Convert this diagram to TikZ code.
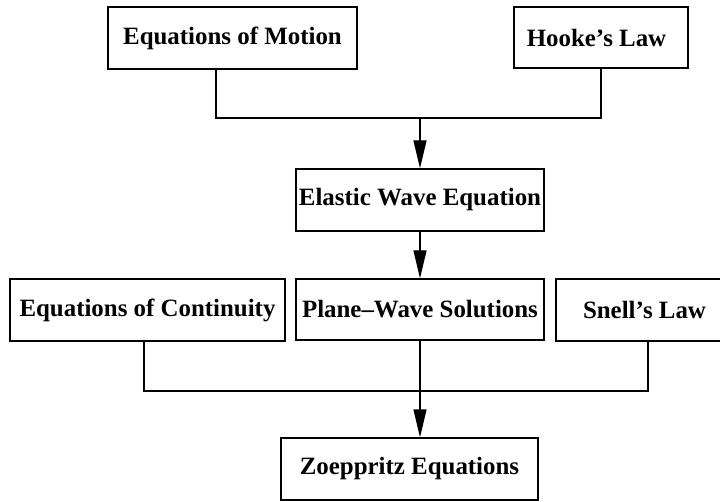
\documentclass[tikz,border=0pt]{standalone}
\usepackage{fontspec}
\setmainfont{Liberation Serif}
\usetikzlibrary{arrows.meta}
\begin{document}
\begin{tikzpicture}[x=1pt,y=-1pt,
  box/.style={draw,line width=1.3pt,inner sep=0pt,
    font=\fontsize{24.9}{28}\selectfont\bfseries},
  link/.style={line width=1.3pt},
  arr/.style={line width=1.3pt,-{Triangle[length=28pt,width=13pt]}}]
\useasboundingbox (0,0) rectangle (720,502);
\clip (0,0) rectangle (720,502);
\node[box,minimum width=249pt,minimum height=62pt] (motion) at (232.5,38) {Equations of Motion};
\node[box,minimum width=174pt,minimum height=61pt] (hooke) at (601,37.5) {\hspace*{-9pt}Hooke’s Law};
\node[box,minimum width=248pt,minimum height=62pt] (elastic) at (420,200) {Elastic Wave Equation};
\node[box,minimum width=275pt,minimum height=62pt] (cont) at (147.5,310) {Equations of Continuity};
\node[box,minimum width=248pt,minimum height=61pt] (plane) at (420,309.5) {Plane--Wave Solutions};
\node[box,minimum width=184pt,minimum height=62pt] (snell) at (648,310) {\hspace*{-7pt}Snell’s Law};
\node[box,minimum width=257pt,minimum height=62pt] (zoep) at (409.5,469) {Zoeppritz Equations};
\coordinate (j1) at (420,118);
\coordinate (j2) at (420,391);
\draw[link] ([xshift=-16.5pt]motion.south) |- (hooke.south |- j1) -- (hooke.south);
\draw[arr] (j1) -- (elastic.north);
\draw[arr] (elastic.south) -- (plane.north);
\draw[link] ([xshift=-3.5pt]cont.south) |- (snell.south |- j2) -- (snell.south);
\draw[arr] (plane.south) -- (plane.south |- zoep.north);
\end{tikzpicture}
\end{document}
